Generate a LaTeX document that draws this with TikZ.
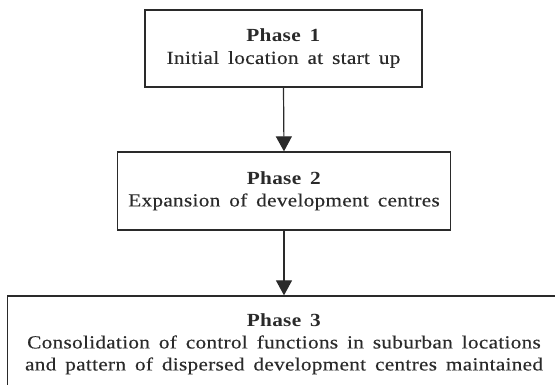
\documentclass[tikz,border=0pt]{standalone}
\usepackage{fontspec}
\setmainfont{Liberation Serif}[WordSpace={1.6,1,1},LetterSpace=1.5,FakeStretch=1.15,
  UprightFeatures={FakeBold=0.3}]
\usetikzlibrary{arrows.meta}
\definecolor{ink}{HTML}{2A2A2A}
\tikzset{
  phasebox/.style={draw=ink, line width=1.3pt, align=center, inner sep=0pt,
    text=ink, font=\fontsize{18.5}{22}\selectfont},
  flow/.style={draw=ink, line width=1.2pt, -{Triangle[width=16pt,length=15pt]}}
}
\begin{document}
\begin{tikzpicture}[x=1pt,y=-1pt]
\useasboundingbox (0,0) rectangle (555,385);
\clip (0,0) rectangle (555,385);
\node[phasebox, minimum width=277pt, minimum height=77pt] (p1) at (283.5,48.5)
  {\textbf{Phase 1}\\Initial location at start up};
\node[phasebox, minimum width=333.5pt, minimum height=78pt] (p2) at (284,191)
  {\textbf{Phase 2}\\Expansion of development centres};
\node[phasebox, minimum width=552.4pt, minimum height=96pt] (p3) at (284,344)
  {\textbf{Phase 3}\\Consolidation of control functions in suburban locations\\and pattern of dispersed development centres maintained};
\draw[flow] (p1.south) -- (p2.north);
\draw[flow] (p2.south) -- (p3.north);
\end{tikzpicture}
\end{document}
